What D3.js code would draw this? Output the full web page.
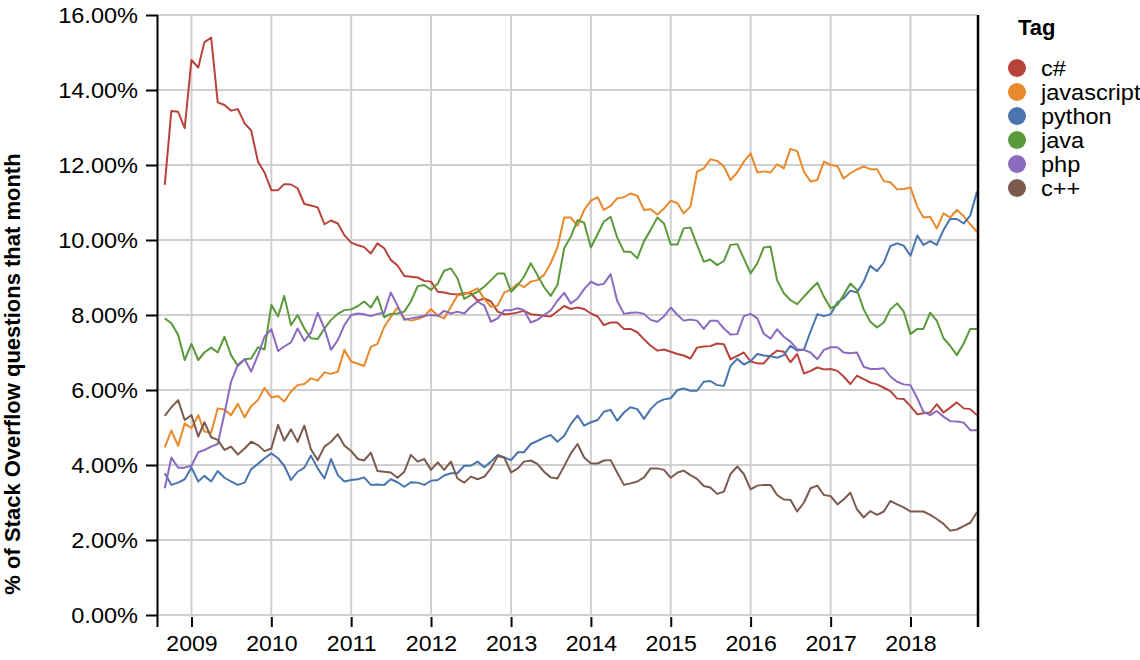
<!DOCTYPE html>
<html><head><meta charset="utf-8">
<script src="https://cdn.jsdelivr.net/npm/d3@7"></script>
<style>
html,body{margin:0;padding:0;background:#fff;}
svg{display:block;font-family:"Liberation Sans",Arial,sans-serif;}
</style></head><body>
<svg id="chart" width="1140" height="660"></svg>
<script>
// ---- data ----
const tags = ["c#", "javascript", "python", "java", "php", "c++"];
const tagColors = ["#b8433a", "#e8892b", "#4a74ae", "#5b9a3c", "#8a6bbf", "#7c5b4e"];
const firstMonth = [2008, 8];   // Sep 2008 (0-based month)
const lastMonth = [2018, 10];   // Nov 2018

const csharp = [11.47,13.44,13.42,12.98,14.8,14.6,15.27,15.4,13.67,13.6,
13.45,13.49,13.11,12.92,12.09,11.8,11.33,11.33,11.49,11.48,
11.38,10.96,10.92,10.87,10.42,10.52,10.44,10.13,9.93,9.86,
9.81,9.64,9.91,9.78,9.47,9.32,9.04,9.02,9.0,8.91,
8.89,8.62,8.6,8.56,8.55,8.58,8.58,8.38,8.44,8.36,
8.09,8.02,8.03,8.07,8.11,8.02,8.0,7.98,7.96,8.1,
8.24,8.16,8.2,8.16,8.04,7.96,7.73,7.8,7.8,7.63,
7.63,7.54,7.35,7.18,7.05,7.08,7.02,6.96,6.92,6.84,
7.13,7.16,7.17,7.24,7.22,6.82,6.91,7.0,6.76,6.71,
6.71,6.92,7.05,7.02,6.74,6.96,6.44,6.51,6.6,6.55,
6.56,6.51,6.36,6.16,6.38,6.29,6.2,6.15,6.06,5.97,
5.77,5.76,5.57,5.35,5.38,5.4,5.62,5.4,5.53,5.67,
5.51,5.49,5.33];

const javascript = [4.47,4.92,4.51,5.11,4.98,5.33,4.89,4.86,5.51,5.48,
5.33,5.63,5.27,5.57,5.73,6.06,5.8,5.84,5.69,5.96,
6.13,6.16,6.31,6.25,6.47,6.43,6.49,7.07,6.76,6.7,
6.64,7.15,7.23,7.68,7.95,8.2,7.91,7.85,7.89,7.96,
8.16,7.98,7.91,8.22,8.52,8.55,8.62,8.71,8.43,8.22,
8.25,8.6,8.68,8.84,8.74,8.89,8.93,9.07,9.38,9.8,
10.6,10.6,10.38,10.8,11.05,11.14,10.8,10.91,11.11,11.14,
11.24,11.18,10.8,10.82,10.68,10.84,11.05,10.98,10.71,10.89,
11.82,11.91,12.15,12.11,11.96,11.6,11.8,12.09,12.31,11.8,
11.83,11.8,12.02,11.91,12.43,12.37,11.82,11.56,11.6,12.09,
12.0,11.97,11.64,11.78,11.88,11.96,11.89,11.89,11.57,11.54,
11.35,11.36,11.4,10.89,10.6,10.62,10.31,10.71,10.6,10.8,
10.64,10.42,10.22];

const python = [3.78,3.47,3.53,3.62,3.93,3.56,3.71,3.56,3.84,3.66,
3.56,3.47,3.53,3.89,4.03,4.18,4.31,4.18,3.98,3.6,
3.82,3.93,4.25,3.91,3.64,4.16,3.73,3.56,3.6,3.62,
3.67,3.47,3.48,3.47,3.62,3.54,3.42,3.54,3.53,3.47,
3.58,3.6,3.72,3.78,3.78,3.98,3.98,4.09,3.94,4.09,
4.27,4.2,4.13,4.34,4.34,4.56,4.64,4.73,4.8,4.62,
4.78,5.09,5.32,5.05,5.14,5.2,5.42,5.47,5.18,5.4,
5.54,5.49,5.23,5.49,5.67,5.75,5.78,6.0,6.04,5.98,
5.98,6.22,6.24,6.13,6.11,6.64,6.83,6.68,6.77,6.96,
6.92,6.9,6.86,6.93,7.18,7.05,7.08,7.56,8.02,7.97,
8.02,8.34,8.44,8.65,8.6,8.89,9.31,9.17,9.4,9.84,
9.91,9.85,9.58,10.12,9.87,9.97,9.87,10.27,10.56,10.56,
10.44,10.65,11.29];

const java = [7.91,7.78,7.47,6.8,7.23,6.8,7.0,7.13,7.0,7.42,
6.93,6.64,6.82,6.84,7.14,7.08,8.27,7.96,8.51,7.73,
8.0,7.64,7.38,7.36,7.64,7.87,8.03,8.13,8.15,8.24,
8.36,8.2,8.49,7.94,8.03,8.04,8.09,8.36,8.77,8.8,
8.67,8.84,9.18,9.24,8.98,8.43,8.53,8.62,8.76,8.93,
9.11,9.11,8.62,8.8,9.02,9.38,9.07,8.74,8.51,8.8,
9.78,10.09,10.53,10.46,9.8,10.16,10.49,10.62,10.07,9.69,
9.69,9.51,9.97,10.27,10.6,10.44,9.88,9.88,10.31,10.33,
9.87,9.42,9.48,9.33,9.44,9.87,9.89,9.51,9.11,9.38,
9.8,9.82,8.93,8.58,8.4,8.29,8.49,8.68,8.86,8.49,
8.18,8.27,8.53,8.84,8.67,8.15,7.82,7.67,7.8,8.15,
8.31,8.09,7.49,7.63,7.63,8.06,7.85,7.38,7.18,6.93,
7.24,7.63,7.63];

const php = [3.38,4.2,3.93,3.93,3.98,4.34,4.4,4.49,4.56,5.38,
6.22,6.67,6.82,6.49,6.93,7.42,7.62,7.04,7.16,7.27,
7.64,7.31,7.53,8.06,7.64,7.07,7.33,7.73,8.0,8.04,
8.02,7.97,8.03,8.06,8.6,8.25,7.87,7.91,7.94,7.98,
8.0,7.98,8.11,8.04,8.09,8.04,8.22,8.36,8.25,7.82,
7.91,8.13,8.13,8.18,8.13,7.8,7.87,8.0,8.12,8.38,
8.59,8.31,8.44,8.69,8.89,8.8,8.83,9.09,8.38,8.03,
8.06,8.07,8.03,7.87,7.82,7.96,8.2,8.0,7.85,7.88,
7.85,7.63,7.85,7.85,7.64,7.48,7.49,7.97,8.03,7.91,
7.5,7.37,7.62,7.42,7.29,7.09,7.07,7.0,6.82,7.07,
7.14,7.14,7.0,6.98,7.0,6.62,6.56,6.56,6.58,6.36,
6.22,6.15,6.13,5.78,5.42,5.33,5.44,5.29,5.17,5.16,
5.13,4.93,4.93];

const cpp = [5.31,5.54,5.73,5.2,5.33,4.76,5.14,4.74,4.67,4.4,
4.49,4.28,4.44,4.62,4.53,4.37,4.44,5.07,4.65,4.95,
4.62,5.05,4.42,4.13,4.49,4.62,4.82,4.52,4.37,4.16,
4.12,4.33,3.84,3.82,3.8,3.66,3.82,4.27,4.09,4.16,
3.87,4.07,3.87,4.09,3.64,3.53,3.69,3.62,3.69,3.91,
4.24,4.2,3.8,3.91,4.09,4.12,4.03,3.82,3.67,3.64,
3.97,4.31,4.56,4.2,4.04,4.04,4.12,4.13,3.8,3.47,
3.51,3.56,3.67,3.91,3.91,3.87,3.66,3.8,3.85,3.73,
3.63,3.44,3.4,3.23,3.29,3.76,3.96,3.76,3.35,3.45,
3.47,3.47,3.2,3.08,3.07,2.76,3.0,3.38,3.45,3.2,
3.17,2.95,3.08,3.26,2.82,2.6,2.77,2.67,2.76,3.04,
2.95,2.87,2.76,2.76,2.76,2.67,2.56,2.43,2.25,2.28,
2.37,2.46,2.74];

const yTickValues = [0, 2, 4, 6, 8, 10, 12, 14, 16];
const xTickYears = [2009, 2010, 2011, 2012, 2013, 2014, 2015, 2016, 2017, 2018];
const yTitle = "% of Stack Overflow questions that month";
const legendTitle = "Tag";

// ---- build ----
const seriesValues = [csharp, javascript, python, java, php, cpp];
const months = d3.utcMonth.range(
  new Date(Date.UTC(firstMonth[0], firstMonth[1], 1)),
  new Date(Date.UTC(lastMonth[0], lastMonth[1] + 1, 1)));
const series = tags.map((t, i) => ({
  tag: t, color: tagColors[i],
  values: seriesValues[i].map((v, j) => ({date: months[j], value: v}))
}));

const svg = d3.select("#chart");
const L = 158, R = 977, T = 15, B = 615;
const x = d3.scaleUtc()
  .domain([new Date(Date.UTC(2008, 7, 1)), new Date(Date.UTC(2018, 10, 1))])
  .range([L, R]);
const y = d3.scaleLinear().domain([0, 16]).range([B, T]);
const yearDates = xTickYears.map(yr => new Date(Date.UTC(yr, 0, 1)));

// widen glyphs slightly (reference text is rendered a bit wider than its height)
function widen(sel, k) {
  sel.each(function() {
    const w = this.getComputedTextLength();
    d3.select(this).attr("textLength", w * k).attr("lengthAdjust", "spacingAndGlyphs");
  });
}

// gridlines
const grid = svg.append("g").attr("stroke", "#d0d0d0").attr("stroke-width", 2);
grid.selectAll("line.h").data(yTickValues).join("line")
  .attr("x1", L).attr("x2", R).attr("y1", d => y(d)).attr("y2", d => y(d));
grid.selectAll("line.v").data(yearDates).join("line")
  .attr("x1", d => x(d)).attr("x2", d => x(d)).attr("y1", T).attr("y2", B);

// lines
const line = d3.line().x(d => x(d.date)).y(d => y(d.value));
svg.append("g").selectAll("path").data(series).join("path")
  .attr("fill", "none").attr("stroke", d => d.color).attr("stroke-width", 2)
  .attr("stroke-linejoin", "round")
  .attr("d", d => line(d.values));

// y axis
const yAxis = svg.append("g").attr("transform", `translate(${L},0)`)
  .call(d3.axisLeft(y).tickValues(yTickValues)
    .tickFormat(d => d.toFixed(2) + "%").tickSize(12).tickPadding(8));
yAxis.select(".domain").remove();
yAxis.selectAll(".tick line").attr("stroke", "#000").attr("stroke-width", 2);
yAxis.selectAll("text").attr("font-size", 22).attr("fill", "#000")
  .attr("font-family", '"Liberation Sans",Arial,sans-serif');
widen(yAxis.selectAll("text"), 1.07);

// x axis
const xAxis = svg.append("g").attr("transform", `translate(0,617)`)
  .call(d3.axisBottom(x).tickValues(yearDates)
    .tickFormat(d3.utcFormat("%Y")).tickSize(10).tickPadding(8));
xAxis.select(".domain").remove();
xAxis.selectAll(".tick line").attr("stroke", "#000").attr("stroke-width", 2);
xAxis.selectAll("text").attr("font-size", 22).attr("fill", "#000")
  .attr("font-family", '"Liberation Sans",Arial,sans-serif');
widen(xAxis.selectAll("text"), 1.05);

// frame lines
svg.append("line").attr("x1", L - 0.5).attr("x2", L - 0.5).attr("y1", T).attr("y2", 627)
  .attr("stroke", "#000").attr("stroke-width", 2);
svg.append("line").attr("x1", R + 1).attr("x2", R + 1).attr("y1", T).attr("y2", 627)
  .attr("stroke", "#000").attr("stroke-width", 2.5);

// y title
svg.append("text").attr("transform", "translate(20,374) rotate(-90)")
  .attr("text-anchor", "middle").attr("font-weight", "bold").attr("font-size", 22)
  .attr("fill", "#000").text(yTitle);

// legend
const lg = svg.append("g");
lg.append("text").attr("x", 1018).attr("y", 35).attr("font-weight", "bold")
  .attr("font-size", 22).attr("fill", "#000").text(legendTitle);
const items = lg.selectAll("g.item").data(series).join("g")
  .attr("transform", (d, i) => `translate(1017,${68 + 24 * i})`);
items.append("circle").attr("r", 9).attr("fill", d => d.color);
const labels = items.append("text").attr("x", 24).attr("dy", "0.35em").attr("font-size", 22)
  .attr("fill", "#000").text(d => d.tag);
widen(labels, 1.07);
</script>
</body></html>
